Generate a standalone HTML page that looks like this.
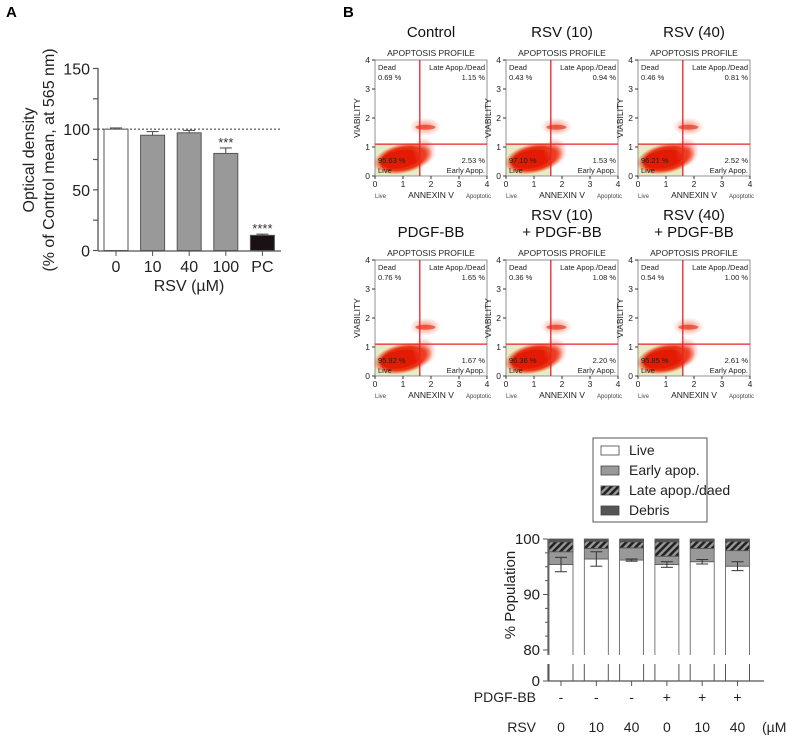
<!DOCTYPE html>
<html><head><meta charset="utf-8"><style>
body{margin:0;background:#fff}
svg{display:block;font-family:"Liberation Sans",Arial,sans-serif}
</style></head><body>
<svg id="fig" width="788" height="740" viewBox="0 0 788 740" xmlns="http://www.w3.org/2000/svg">
<defs>
<pattern id="hatch" width="5" height="5" patternUnits="userSpaceOnUse" patternTransform="rotate(45)">
<rect width="5" height="5" fill="#999"/><rect width="2.6" height="5" fill="#222"/></pattern>
<radialGradient id="blob"><stop offset="0" stop-color="#e01800"/><stop offset="0.75" stop-color="#e82a0a" stop-opacity="0.95"/><stop offset="1" stop-color="#f04020" stop-opacity="0"/></radialGradient>
<radialGradient id="blob2"><stop offset="0" stop-color="#f03a20" stop-opacity="0.8"/><stop offset="1" stop-color="#f06040" stop-opacity="0"/></radialGradient>
</defs>
<text x="6" y="17" font-size="15" font-weight="bold">A</text>
<text x="343" y="17" font-size="15" font-weight="bold">B</text>
<g id="chartA"></g>
<g id="flow"></g>
<g id="chartB"></g>
</svg>
<script>
// ---- Panel A data ----
const aCategories = ["0","10","40","100","PC"];
const aValues = [100, 95, 97, 80, 12.5];
const aErrors = [1, 3, 2, 4.5, 1];
const aStars = ["","","","***","****"];
const aTicks = [0,50,100,150];
// ---- Flow data ----
const flowTitles = [["Control"],["RSV (10)"],["RSV (40)"],["PDGF-BB"],["RSV (10)","+ PDGF-BB"],["RSV (40)","+ PDGF-BB"]];
const flowDead = ["0.69","0.43","0.46","0.76","0.36","0.54"];
const flowLate = ["1.15","0.94","0.81","1.65","1.08","1.00"];
const flowLive = ["95.63","97.10","96.21","95.92","96.36","95.85"];
const flowEarly = ["2.53","1.53","2.52","1.67","2.20","2.61"];
// ---- Panel B bottom data ----
const bGroups = ["0","10","40","0","10","40"];
const bPdgf = ["-","-","-","+","+","+"];
const bLive = [95.4, 96.4, 96.2, 95.4, 95.9, 95.1];
const bEarly = [2.3, 1.9, 2.2, 1.5, 2.4, 2.8];
const bLate = [1.8, 1.3, 1.1, 2.6, 1.3, 1.7];
const bDebris = [0.5, 0.4, 0.5, 0.5, 0.4, 0.4];
const bErr = [1.3, 1.3, 0.2, 0.5, 0.4, 0.8];
const bTicks = [80, 90, 100];

const NS="http://www.w3.org/2000/svg";
function mk(p,tag,attrs,txt){const e=document.createElementNS(NS,tag);for(const k in attrs)e.setAttribute(k,attrs[k]);if(txt!==undefined)e.textContent=txt;p.appendChild(e);return e;}

// Panel A
(function(){
const g=document.getElementById('chartA');
const y=v=>250.5-v*(250.5-68.5)/150;
const x=i=>116+i*36.6;
let ax=mk(g,'line',{x1:98,y1:68,x2:98,y2:251,stroke:'#555','stroke-width':1.3});


mk(g,'line',{x1:98,y1:251,x2:281,y2:251,stroke:'#555','stroke-width':1.3});
[0,25,50,75,100,125,150].forEach(v=>mk(g,'line',{x1:93,y1:y(v),x2:98,y2:y(v),stroke:'#555','stroke-width':1.2}));
aTicks.forEach(v=>{let t=mk(g,'text',{x:90,y:y(v)+6,'font-size':16,'text-anchor':'end',fill:'#222'},v);

});
mk(g,'line',{x1:98,y1:y(100),x2:281,y2:y(100),stroke:'#333','stroke-dasharray':'2,2','stroke-width':1});
const fills=['#fff','#999','#999','#999','#1a1212'];
aCategories.forEach((c,i)=>{
 const cx=x(i);
 mk(g,'line',{x1:cx,y1:y(aValues[i]+aErrors[i]),x2:cx,y2:y(aValues[i]),stroke:'#444','stroke-width':1});
 mk(g,'line',{x1:cx-6,y1:y(aValues[i]+aErrors[i]),x2:cx+6,y2:y(aValues[i]+aErrors[i]),stroke:'#444','stroke-width':1});
 let b=mk(g,'rect',{x:cx-12,y:y(aValues[i]),width:24,height:y(0)-y(aValues[i]),fill:fills[i],stroke:'#555','stroke-width':1});
 
 
 mk(g,'line',{x1:cx,y1:251,x2:cx,y2:256,stroke:'#555'});
 let t=mk(g,'text',{x:cx,y:272,'font-size':16,'text-anchor':'middle',fill:'#222'},c);
 
 
 if(aStars[i]){let s=mk(g,'text',{x:cx,y:y(aValues[i]+aErrors[i])-1,'font-size':13,'text-anchor':'middle',fill:'#333'},aStars[i]);
 
 }
});
let xt=mk(g,'text',{x:189,y:291,'font-size':16,'text-anchor':'middle',fill:'#222'},'RSV (µM)');


let yt=mk(g,'text',{transform:'translate(34,160) rotate(-90)','font-size':16,'text-anchor':'middle',fill:'#222'});


mk(yt,'tspan',{x:0,y:0},'Optical density');
mk(yt,'tspan',{x:0,y:20},'(% of Control mean, at 565 nm)');
})();

// Flow plots
(function(){
const g=document.getElementById('flow');
const cols=[375,506,638], rows=[60,260];
flowTitles.forEach((tl,k)=>{
 const X0=cols[k%3], Y0=rows[Math.floor(k/3)], W=112, H=116;
 const p=mk(g,'g',{});
 
 
 const sx=v=>X0+v*W/4, sy=v=>Y0+H-v*H/4;
 tl.forEach((t,j)=>{let e=mk(p,'text',{x:X0+W/2,y:Y0-23-(tl.length-1-j)*17,'font-size':15,'text-anchor':'middle',fill:'#111'},t);
 
 });
 mk(p,'text',{x:X0+W/2,y:Y0-4,'font-size':8.5,'text-anchor':'middle',fill:'#222'},'APOPTOSIS PROFILE');
 mk(p,'rect',{x:sx(0),y:sy(1.1),width:sx(1.6)-sx(0),height:sy(0)-sy(1.1),fill:'#e6edc6'});
 mk(p,'rect',{x:X0,y:Y0,width:W,height:H,fill:'none',stroke:'#777','stroke-width':0.8});
 // scatter blobs
 mk(p,'ellipse',{cx:sx(1.0),cy:sy(0.6),rx:30,ry:15,fill:'url(#blob)',transform:`rotate(-12 ${sx(1.0)} ${sy(0.6)})`});
 mk(p,'ellipse',{cx:sx(0.9),cy:sy(0.58),rx:20,ry:9,fill:'#e41a04',transform:`rotate(-10 ${sx(0.9)} ${sy(0.58)})`});
 mk(p,'ellipse',{cx:sx(1.75),cy:sy(0.85),rx:12,ry:14,fill:'url(#blob2)'});
 mk(p,'ellipse',{cx:sx(1.8),cy:sy(1.7),rx:16,ry:9,fill:'url(#blob2)',opacity:0.8});
 mk(p,'ellipse',{cx:sx(1.8),cy:sy(1.68),rx:10,ry:2.5,fill:'#e83a20',opacity:0.7});
 mk(p,'line',{x1:sx(1.6),y1:Y0,x2:sx(1.6),y2:Y0+H,stroke:'#e8202a','stroke-width':1.3});
 mk(p,'line',{x1:X0,y1:sy(1.1),x2:X0+W,y2:sy(1.1),stroke:'#e8202a','stroke-width':1.3});
 for(let v=0;v<=4;v++){
  mk(p,'line',{x1:X0-3,y1:sy(v),x2:X0,y2:sy(v),stroke:'#333'});
  mk(p,'text',{x:X0-5,y:sy(v)+3,'font-size':8.5,'text-anchor':'end',fill:'#222'},v);
  mk(p,'line',{x1:sx(v),y1:Y0+H,x2:sx(v),y2:Y0+H+3,stroke:'#333'});
  mk(p,'text',{x:sx(v),y:Y0+H+11,'font-size':8.5,'text-anchor':'middle',fill:'#222'},v);
 }
 mk(p,'text',{transform:`translate(${X0-15},${Y0+H/2}) rotate(-90)`,'font-size':8.5,'text-anchor':'middle',fill:'#222'},'VIABILITY');
 mk(p,'text',{x:X0,y:Y0+H+22,'font-size':6,fill:'#444'},'Live');
 mk(p,'text',{x:X0+W/2,y:Y0+H+22,'font-size':8.5,'text-anchor':'middle',fill:'#222'},'ANNEXIN V');
 mk(p,'text',{x:X0+W+4,y:Y0+H+22,'font-size':6,'text-anchor':'end',fill:'#444'},'Apoptotic');
 mk(p,'text',{x:X0+3,y:Y0+10,'font-size':7.5,fill:'#222'},'Dead');
 mk(p,'text',{x:X0+3,y:Y0+20,'font-size':7.5,fill:'#222'},flowDead[k]+' %');
 mk(p,'text',{x:X0+W-2,y:Y0+10,'font-size':7.5,'text-anchor':'end',fill:'#222'},'Late Apop./Dead');
 mk(p,'text',{x:X0+W-2,y:Y0+20,'font-size':7.5,'text-anchor':'end',fill:'#222'},flowLate[k]+' %');
 mk(p,'text',{x:X0+3,y:Y0+H-13,'font-size':7.5,fill:'#222'},flowLive[k]+' %');
 mk(p,'text',{x:X0+3,y:Y0+H-3,'font-size':7.5,fill:'#222'},'Live');
 mk(p,'text',{x:X0+W-2,y:Y0+H-13,'font-size':7.5,'text-anchor':'end',fill:'#222'},flowEarly[k]+' %');
 mk(p,'text',{x:X0+W-2,y:Y0+H-3,'font-size':7.5,'text-anchor':'end',fill:'#222'},'Early Apop.');
});
})();

// Panel B bottom stacked chart
(function(){
const g=document.getElementById('chartB');
const y=v=>650-(v-80)*(650-539)/20;
const x=i=>561+i*35.3;
const lg=mk(g,'g',{});


mk(lg,'rect',{x:593,y:438,width:114,height:84,fill:'#fff',stroke:'#555'});
const lItems=[['Live','#fff'],['Early apop.','#999'],['Late apop./daed','url(#hatch)'],['Debris','#555']];
lItems.forEach((it,i)=>{const yy=450+i*20;
 mk(lg,'rect',{x:601,y:yy-4,width:18,height:9,fill:it[1],stroke:'#444','stroke-width':0.8});
 let t=mk(lg,'text',{x:629,y:yy+5,'font-size':14,fill:'#222'},it[0]);
 
 });
mk(g,'line',{x1:548,y1:539,x2:548,y2:655,stroke:'#555','stroke-width':1.2});
mk(g,'line',{x1:548,y1:664,x2:548,y2:681,stroke:'#555','stroke-width':1.2});
mk(g,'line',{x1:548,y1:681,x2:764,y2:681,stroke:'#555','stroke-width':1.2});
mk(g,'line',{x1:543,y1:681,x2:548,y2:681,stroke:'#555'});
let z=mk(g,'text',{x:540,y:686,'font-size':15,'text-anchor':'end',fill:'#222'},'0');


[82.5,85,87.5,92.5,95,97.5].forEach(v=>mk(g,'line',{x1:545,y1:y(v),x2:548,y2:y(v),stroke:'#555'}));
bTicks.forEach(v=>{mk(g,'line',{x1:543,y1:y(v),x2:548,y2:y(v),stroke:'#555'});
 let t=mk(g,'text',{x:540,y:y(v)+5,'font-size':15,'text-anchor':'end',fill:'#222'},v);
 
 });
let yt=mk(g,'text',{transform:'translate(515,595) rotate(-90)','font-size':15,'text-anchor':'middle',fill:'#222'},'% Population');


bGroups.forEach((gr,i)=>{
 const cx=x(i), w=24;
 // live segment: open-bottom path extending into broken axis
 let lv=mk(g,'path',{d:`M${cx-w/2},655 V${y(bLive[i])} H${cx+w/2} V655`,fill:'#fff',stroke:'#555','stroke-width':0.8});
 
 
 const segs=[[bLive[i],bLive[i]+bEarly[i],'#999'],[bLive[i]+bEarly[i],bLive[i]+bEarly[i]+bLate[i],'url(#hatch)'],[bLive[i]+bEarly[i]+bLate[i],bLive[i]+bEarly[i]+bLate[i]+bDebris[i],'#555']];
 segs.forEach((s,j)=>{let r=mk(g,'rect',{x:cx-w/2,y:y(s[1]),width:w,height:y(s[0])-y(s[1]),fill:s[2],stroke:'#555','stroke-width':0.8});
  
  });
 mk(g,'line',{x1:cx-w/2,y1:664,x2:cx-w/2,y2:681,stroke:'#555'});
 mk(g,'line',{x1:cx+w/2,y1:664,x2:cx+w/2,y2:681,stroke:'#555'});
 const e1=y(bLive[i]+bErr[i]), e2=y(bLive[i]-bErr[i]);
 mk(g,'line',{x1:cx,y1:e1,x2:cx,y2:e2,stroke:'#333'});
 mk(g,'line',{x1:cx-6,y1:e1,x2:cx+6,y2:e1,stroke:'#333'});
 mk(g,'line',{x1:cx-6,y1:e2,x2:cx+6,y2:e2,stroke:'#333'});
 mk(g,'line',{x1:cx,y1:681,x2:cx,y2:686,stroke:'#555'});
 let p=mk(g,'text',{x:cx,y:702,'font-size':14,'text-anchor':'middle',fill:'#222'},bPdgf[i]);
 
 
 let r=mk(g,'text',{x:cx,y:732,'font-size':14,'text-anchor':'middle',fill:'#222'},gr);
 
 
});
mk(g,'text',{x:536,y:702,'font-size':14,'text-anchor':'end',fill:'#222'},'PDGF-BB');
mk(g,'text',{x:536,y:732,'font-size':14,'text-anchor':'end',fill:'#222'},'RSV');
mk(g,'text',{x:762,y:732,'font-size':14,fill:'#222'},'(µM');
})();
</script>
</body></html>
